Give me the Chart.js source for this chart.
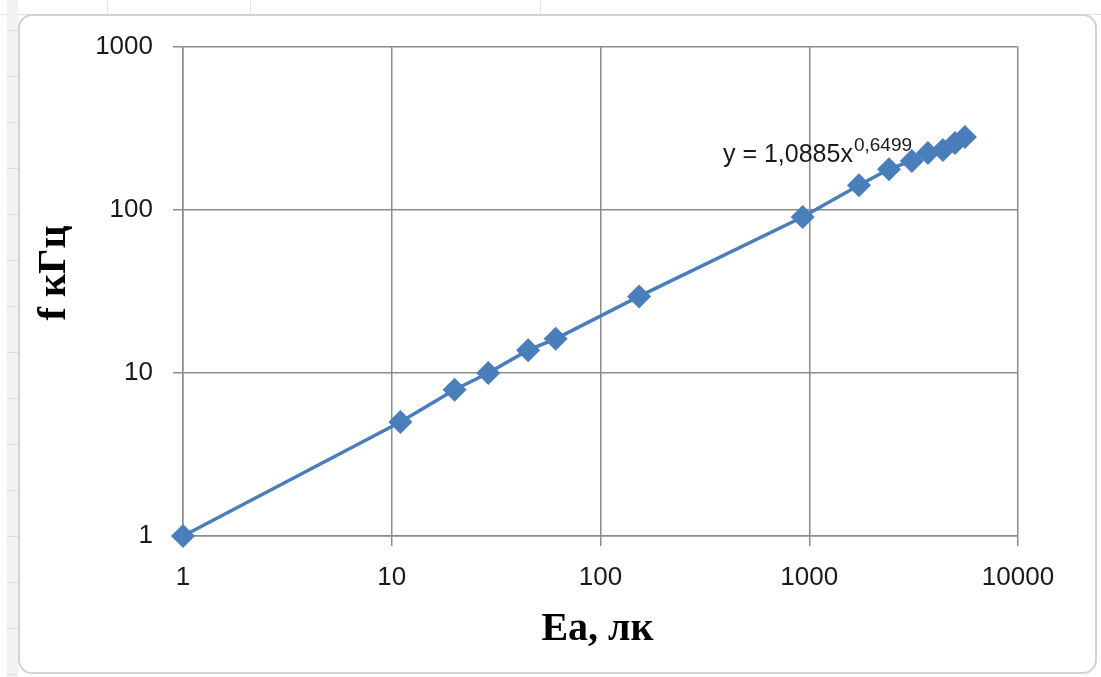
<!DOCTYPE html>
<html>
<head>
<meta charset="utf-8">
<script src="https://cdn.jsdelivr.net/npm/chart.js@4.4.1/dist/chart.umd.min.js"></script>
<style>
  body { margin: 0; background: #fff; }
  #wrap { position: relative; width: 1101px; height: 677px; overflow: hidden; }
  .strip-left {
    position: absolute; left: 7px; top: 0; width: 11px; height: 677px;
    background: repeating-linear-gradient(to bottom, #f2f2f2 0 30px, #dcdcdc 30px 31px, #f2f2f2 31px 46px);
  }
  .strip-top {
    position: absolute; left: 0; top: 0; width: 1101px; height: 14px;
    border-bottom: 1px solid #e3e3e3;
  }
  .col { position: absolute; top: 0; width: 1px; height: 14px; background: #e3e3e3; }
  #frame {
    position: absolute; left: 18px; top: 14px; width: 1075px; height: 656px;
    border: 2px solid #d2d2d2; border-radius: 14px; background: #fff;
  }
  canvas { position: absolute; left: 0; top: 0; }
</style>
</head>
<body>
<div id="wrap">
  <div class="strip-top"></div>
  <div class="col" style="left:107px"></div>
  <div class="col" style="left:250px"></div>
  <div class="col" style="left:540px"></div>
  <div class="strip-left"></div>
  <div id="frame"></div>
  <canvas id="myChart" width="1101" height="677"></canvas>
</div>
<script>
// illuminance (lx) and frequency (kHz)
let illum = [1, 11, 20, 29, 45, 61, 153, 930, 1730, 2410, 3100, 3700, 4370, 4990, 5570]
let freq = [1, 5, 7.9, 10, 13.8, 16.2, 29.5, 90.5, 142, 178, 200, 224, 233, 258, 280]

let xTicks = [1, 10, 100, 1000, 10000]
let yTicks = [1, 10, 100, 1000]

let xTitle = 'Ea, лк'
let yTitle = 'f кГц'
let eqMain = 'y = 1,0885x'
let eqPow = '0,6499'
let eqAt = [386, 197] // where the equation label sits, in data units

let blue = '#4a7ebb'
let gridGrey = '#8c8c8c'
let tickFont = { family: '"Liberation Sans", Arial, sans-serif', size: 26 }

let points = illum.map((x, i) => ({ x: x, y: freq[i] }))

// titles + trendline equation
let labelsPlugin = {
  id: 'labels',
  afterDraw(chart) {
    let ctx = chart.ctx
    let area = chart.chartArea
    let sx = chart.scales.x
    let sy = chart.scales.y
    ctx.save()
    ctx.fillStyle = '#000'

    ctx.font = 'bold 40px "Liberation Serif", "Times New Roman", serif'
    ctx.textAlign = 'center'
    ctx.textBaseline = 'middle'
    ctx.fillText(xTitle, (area.left + area.right) / 2 - 3, area.bottom + 94)

    ctx.save()
    ctx.translate(55, area.top + 226)
    ctx.rotate(-Math.PI / 2)
    ctx.fillText(yTitle, 0, 0)
    ctx.restore()

    let px = sx.getPixelForValue(eqAt[0])
    let py = sy.getPixelForValue(eqAt[1])
    ctx.textAlign = 'left'
    ctx.textBaseline = 'alphabetic'
    ctx.fillStyle = '#1a1a1a'
    ctx.font = '25px "Liberation Sans", Arial, sans-serif'
    ctx.fillText(eqMain, px, py)
    let w = ctx.measureText(eqMain).width
    ctx.font = '19px "Liberation Sans", Arial, sans-serif'
    ctx.fillText(eqPow, px + w + 1, py - 11)
    ctx.restore()
  }
}

new Chart('myChart', {
  type: 'scatter',
  data: {
    datasets: [{
      data: points,
      showLine: true,
      clip: false,
      borderColor: blue,
      borderWidth: 3.5,
      backgroundColor: blue,
      pointStyle: 'rectRot',
      pointRadius: 12,
      pointHoverRadius: 12,
      pointBorderWidth: 0,
      pointBackgroundColor: blue
    }]
  },
  options: {
    responsive: false,
    animation: false,
    layout: { padding: { left: 0, top: 47, right: 83, bottom: 0 } },
    plugins: {
      legend: { display: false },
      tooltip: { enabled: false }
    },
    scales: {
      x: {
        type: 'logarithmic',
        min: 1,
        max: 10000,
        afterBuildTicks: s => { s.ticks = xTicks.map(v => ({ value: v })) },
        afterFit: s => { s.height = 141 },
        ticks: {
          callback: v => String(v),
          font: tickFont,
          color: '#1a1a1a',
          padding: 16,
          maxRotation: 0,
          autoSkip: false
        },
        grid: { color: gridGrey, lineWidth: 1.5, tickLength: 10 },
        border: { color: gridGrey, width: 1.5 }
      },
      y: {
        type: 'logarithmic',
        min: 1,
        max: 1000,
        afterBuildTicks: s => { s.ticks = yTicks.map(v => ({ value: v })) },
        afterFit: s => { s.width = 183 },
        ticks: {
          callback: v => String(v),
          font: tickFont,
          color: '#1a1a1a',
          padding: 20,
          autoSkip: false
        },
        grid: { color: gridGrey, lineWidth: 1.5, tickLength: 10 },
        border: { color: gridGrey, width: 1.5 }
      }
    }
  },
  plugins: [labelsPlugin]
})
</script>
</body>
</html>
